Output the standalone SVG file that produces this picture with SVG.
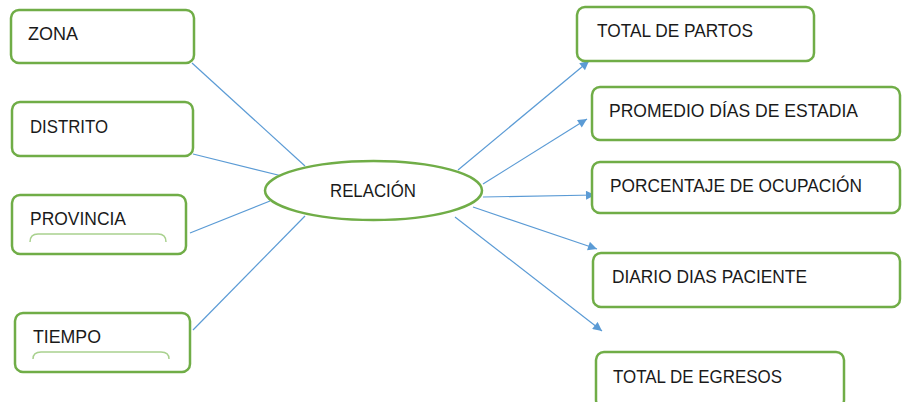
<svg xmlns="http://www.w3.org/2000/svg" width="902" height="402" viewBox="0 0 902 402">
<defs>
<style>
.box{fill:#fff;stroke:#70ad47;stroke-width:2.5}
.arc{fill:none;stroke:#a9d18e;stroke-width:1.5}
.t{font-family:"Liberation Sans",Arial,sans-serif;font-size:18px;fill:#1a1a1a}
.c{stroke:#5b9bd5;stroke-width:1.2;fill:none}
</style>
<marker id="ah" viewBox="0 0 10 10" refX="10" refY="5" markerWidth="11" markerHeight="9" markerUnits="userSpaceOnUse" orient="auto">
<path d="M0,0 L10,5 L0,10 Z" fill="#5b9bd5"/>
</marker>
</defs>
<rect width="902" height="402" fill="#fff"/>
<g id="connectors">
<line class="c" x1="192" y1="63" x2="305" y2="166"/>
<line class="c" x1="193" y1="154" x2="282" y2="176"/>
<line class="c" x1="190" y1="233" x2="270" y2="201"/>
<line class="c" x1="193" y1="330" x2="305" y2="216"/>
<line class="c" x1="458" y1="170" x2="589" y2="61" marker-end="url(#ah)"/>
<line class="c" x1="483" y1="184" x2="587" y2="119" marker-end="url(#ah)"/>
<line class="c" x1="483" y1="197" x2="595" y2="195" marker-end="url(#ah)"/>
<line class="c" x1="473" y1="207" x2="597" y2="249" marker-end="url(#ah)"/>
<line class="c" x1="455" y1="217" x2="602" y2="331" marker-end="url(#ah)"/>
</g>
<g id="zona"><rect class="box" x="11" y="10" width="183" height="53" rx="8"/><text class="t" x="28" y="40" textLength="50" lengthAdjust="spacingAndGlyphs">ZONA</text></g>
<g id="distrito"><rect class="box" x="12" y="102" width="181" height="54" rx="8"/><text class="t" x="30" y="133" textLength="78" lengthAdjust="spacingAndGlyphs">DISTRITO</text></g>
<g id="provincia"><rect class="box" x="12" y="195" width="174" height="59" rx="8"/><text class="t" x="30" y="225" textLength="96" lengthAdjust="spacingAndGlyphs">PROVINCIA</text><path class="arc" d="M30,242 Q30,234 38,234 L158,234 Q166,234 166,242"/></g>
<g id="tiempo"><rect class="box" x="15" y="313" width="175" height="59" rx="8"/><text class="t" x="33" y="343" textLength="68" lengthAdjust="spacingAndGlyphs">TIEMPO</text><path class="arc" d="M33,359 Q33,352 41,352 L161,352 Q169,352 169,359"/></g>
<g id="relacion"><ellipse cx="373.5" cy="190.5" rx="108.5" ry="29.5" fill="#fff" stroke="#70ad47" stroke-width="2.5"/><text class="t" x="330" y="197" textLength="86" lengthAdjust="spacingAndGlyphs">RELACIÓN</text></g>
<g id="partos"><rect class="box" x="577" y="7" width="237" height="54" rx="8"/><text class="t" x="597" y="37" textLength="156" lengthAdjust="spacingAndGlyphs">TOTAL DE PARTOS</text></g>
<g id="promedio"><rect class="box" x="592" y="87" width="308" height="53" rx="8"/><text class="t" x="609" y="117" textLength="249" lengthAdjust="spacingAndGlyphs">PROMEDIO DÍAS DE ESTADIA</text></g>
<g id="porcentaje"><rect class="box" x="592" y="162" width="308" height="51" rx="8"/><text class="t" x="610" y="192" textLength="252" lengthAdjust="spacingAndGlyphs">PORCENTAJE DE OCUPACIÓN</text></g>
<g id="diario"><rect class="box" x="593" y="253" width="307" height="54" rx="8"/><text class="t" x="612" y="283" textLength="195" lengthAdjust="spacingAndGlyphs">DIARIO DIAS PACIENTE</text></g>
<g id="egresos"><rect class="box" x="596" y="352" width="248" height="56" rx="8"/><text class="t" x="613" y="383" textLength="169" lengthAdjust="spacingAndGlyphs">TOTAL DE EGRESOS</text></g>
</svg>
